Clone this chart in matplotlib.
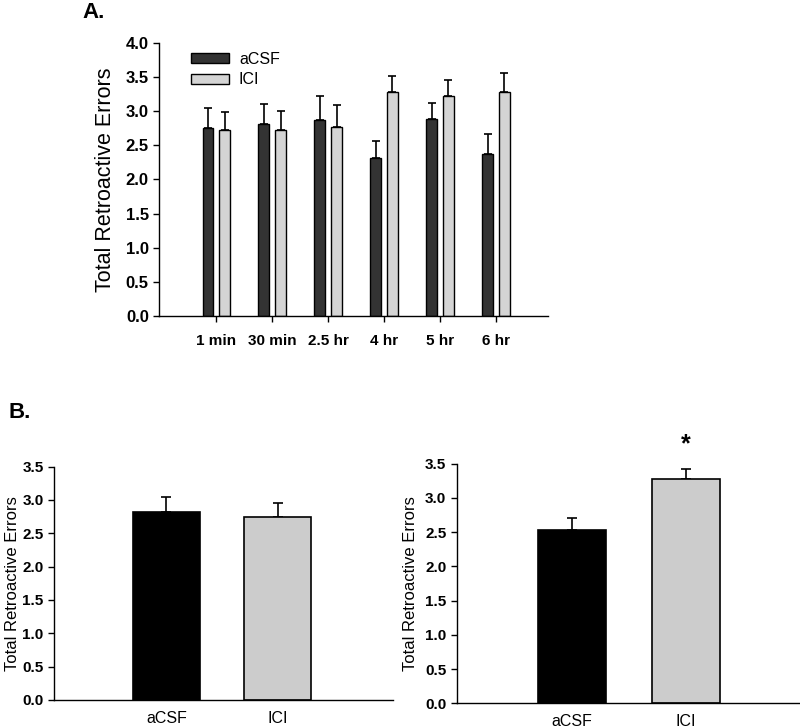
import numpy as np
import matplotlib
matplotlib.use('Agg')
import matplotlib.pyplot as plt

plt.rcParams['font.family'] = ['Liberation Sans', 'DejaVu Sans']

# panel A data --------------------------------------------------------------
times = ['1 min', '30 min', '2.5 hr', '4 hr', '5 hr', '6 hr']
acsf_mean = [2.75, 2.81, 2.87, 2.32, 2.88, 2.38]
acsf_sem = [0.29, 0.30, 0.35, 0.25, 0.24, 0.29]
ici_mean = [2.72, 2.72, 2.77, 3.28, 3.23, 3.28]
ici_sem = [0.27, 0.28, 0.32, 0.24, 0.22, 0.28]

# panel B data --------------------------------------------------------------
groups = ['aCSF', 'ICI']
b_left_mean = [2.82, 2.75]
b_left_sem = [0.23, 0.21]
b_right_mean = [2.53, 3.27]
b_right_sem = [0.18, 0.16]

fig = plt.figure(figsize=(8.0, 7.28), dpi=100)


def style_axes(ax):
    ax.spines['top'].set_visible(False)
    ax.spines['right'].set_visible(False)
    ax.spines['left'].set_linewidth(1.0)
    ax.spines['bottom'].set_linewidth(1.0)
    ax.tick_params(axis='y', direction='out', length=4, width=1.0)


# A: time course -------------------------------------------------------------
axA = fig.add_axes([0.199, 0.566, 0.486, 0.375])
x = np.arange(len(times))
w = 0.19
off = 0.15
axA.bar(x - off, acsf_mean, w, color='#333333', edgecolor='black', linewidth=1.0,
        label='aCSF', zorder=2)
axA.bar(x + off, ici_mean, w, color='#d4d4d4', edgecolor='black', linewidth=1.0,
        label='ICI', zorder=2)
axA.errorbar(x - off, acsf_mean, yerr=[np.zeros(len(x)), acsf_sem], fmt='none',
             ecolor='black', elinewidth=1.2, capsize=3.2, capthick=1.2, zorder=1)
axA.errorbar(x + off, ici_mean, yerr=[np.zeros(len(x)), ici_sem], fmt='none',
             ecolor='black', elinewidth=1.2, capsize=3.2, capthick=1.2, zorder=1)
axA.set_xlim(-1.02, 5.93)
axA.set_ylim(0, 4.0)
axA.set_yticks(np.arange(0, 4.01, 0.5))
axA.set_yticklabels(['%.1f' % v for v in np.arange(0, 4.01, 0.5)],
                    fontsize=12, fontweight='bold')
axA.set_xticks(x)
axA.set_xticklabels(times, fontsize=11, fontweight='bold')
axA.tick_params(axis='x', direction='out', length=4, width=1.0, pad=9)
axA.set_ylabel('Total Retroactive Errors', fontsize=15.5, labelpad=7)
style_axes(axA)
axA.legend(loc='upper left', bbox_to_anchor=(0.045, 1.02), frameon=False,
           fontsize=11.5, handlelength=2.4, handleheight=0.6, labelspacing=0.35,
           handletextpad=0.6)

fig.text(0.103, 0.983, 'A.', fontsize=16, fontweight='bold', va='center')
fig.text(0.01, 0.433, 'B.', fontsize=16, fontweight='bold', va='center')


# B: pooled bars --------------------------------------------------------------
def pooled(ax, means, sems, pad):
    xb = np.arange(len(groups))
    ax.bar(xb, means, 0.6, color=['black', '#cccccc'], edgecolor='black',
           linewidth=1.2, zorder=2)
    ax.errorbar(xb, means, yerr=[np.zeros(len(xb)), sems], fmt='none',
                ecolor='black', elinewidth=1.2, capsize=3.5, capthick=1.2, zorder=1)
    ax.set_xlim(-1.01, 2.04)
    ax.set_ylim(0, 3.5)
    ax.set_yticks(np.arange(0, 3.51, 0.5))
    ax.set_yticklabels(['%.1f' % v for v in np.arange(0, 3.51, 0.5)],
                       fontsize=11, fontweight='bold')
    ax.set_xticks(xb)
    ax.set_xticklabels(groups, fontsize=11.5)
    ax.tick_params(axis='x', length=0, pad=8)
    ax.set_ylabel('Total Retroactive Errors', fontsize=12, labelpad=pad)
    style_axes(ax)


axB1 = fig.add_axes([0.0675, 0.0385, 0.424, 0.3205])
pooled(axB1, b_left_mean, b_left_sem, 2)

axB2 = fig.add_axes([0.571, 0.034, 0.429, 0.329])
pooled(axB2, b_right_mean, b_right_sem, 5)
axB2.set_xlim(-1.01, 2.0)
axB2.text(1, 3.78, '*', ha='center', va='center', fontsize=18, fontweight='bold')

fig.savefig('out.png', dpi=100)
